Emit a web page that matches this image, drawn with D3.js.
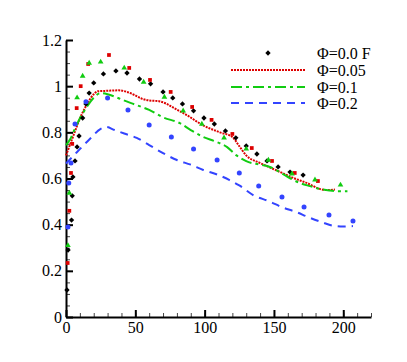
<!DOCTYPE html>
<html>
<head>
<meta charset="utf-8">
<script src="https://cdn.jsdelivr.net/npm/d3@7"></script>
</head>
<body style="margin:0">
<svg id="chart" width="407" height="362" font-family="Times New Roman"></svg>
<script>
// ---- data ----
const xTicks = [0, 50, 100, 150, 200];
const yTicks = [0, 0.2, 0.4, 0.6, 0.8, 1, 1.2];
const seriesNames = ["\u03A6=0.0 F", "\u03A6=0.05", "\u03A6=0.1", "\u03A6=0.2"];

// lines [x, y]
const line005 = [[0,0.70],[5,0.78],[10,0.86],[15,0.92],[20,0.965],[23,0.978],[30,0.98],[38,0.982],[44,0.975],
  [50,0.96],[55,0.945],[60,0.938],[67,0.935],[72,0.925],[78,0.905],[87,0.875],[99,0.83],[111,0.80],[120,0.78],
  [125,0.74],[130,0.70],[140,0.667],[150,0.64],[156,0.624],[165,0.60],[174,0.58],[183,0.555],[188,0.55],[194,0.552]];
const line01 = [[0,0.745],[3,0.77],[6,0.81],[10,0.86],[15,0.91],[20,0.95],[25,0.97],[30,0.965],[35,0.955],[41,0.94],
  [50,0.92],[60,0.897],[70,0.865],[82,0.84],[90,0.81],[99,0.78],[108,0.76],[116,0.737],[123,0.70],[130,0.675],
  [140,0.66],[147,0.65],[155,0.625],[162,0.60],[169,0.58],[176,0.567],[183,0.555],[190,0.548],[196,0.545],[203,0.545]];
const line02 = [[0,0.665],[8,0.715],[17,0.77],[25,0.815],[29,0.823],[35,0.81],[42,0.795],[51,0.776],[60,0.745],
  [70,0.71],[80,0.68],[90,0.66],[99,0.637],[110,0.615],[118,0.593],[125,0.57],[135,0.528],[147,0.50],[156,0.475],
  [166,0.455],[175,0.432],[185,0.41],[193,0.395],[200,0.392],[207,0.394]];

// scatter points [x, y]
const pts00 = [[0.7,0.117],[1.5,0.29],[4,0.42],[4.5,0.525],[5,0.607],[6.5,0.676],[8,0.737],[9.4,0.784],[12,0.862],
  [14.4,0.923],[16.7,0.97],[20,1.014],[27,1.053],[36,1.066],[44,1.057],[53,1.031],[61,1.01],[70,0.975],[77,0.949],
  [84,0.923],[92,0.893],[99.5,0.862],[107,0.836],[115,0.806],[122.5,0.776],[130,0.741],[137.7,0.706],[145,0.676],
  [153,0.65],[161.6,0.628],[171,0.615]];
const pts005 = [[1.2,0.234],[2.4,0.46],[3.6,0.624],[4.5,0.75],[7.7,0.905],[10.6,1.0],[16,1.096],[31,1.135],
  [45.6,1.079],[60.6,1.027],[75.5,0.975],[91,0.91],[105,0.854],[120,0.793],[134,0.732],[148.6,0.676],[165,0.624],[181.7,0.589]];
const pts01 = [[1.4,0.31],[2.4,0.537],[8,0.95],[12,1.044],[16.7,1.10],[25,1.105],[42,1.079],[56,1.018],[71,0.953],
  [84.5,0.893],[98,0.836],[114,0.776],[130,0.728],[146,0.68],[163,0.62],[179.6,0.594],[198,0.572]];
const pts02 = [[1.4,0.39],[2,0.58],[3.6,0.667],[6.5,0.836],[14.4,0.932],[30,0.949],[44.7,0.897],[60,0.832],[76,0.78],
  [92,0.728],[109,0.68],[125,0.624],[139,0.568],[155.8,0.52],[171.7,0.477],[189.7,0.442],[207,0.416]];

// ---- chart ----
const svg = d3.select("#chart");
const x = d3.scaleLinear().domain([0, 220]).range([66, 371]);
const y = d3.scaleLinear().domain([0, 1.2]).range([317, 40]);

const red = "#dd0000", green = "#11cc11", blue = "#3344ff";

// minor ticks
svg.append("g").attr("transform", "translate(0,317)")
  .call(d3.axisBottom(x).tickValues(d3.range(0, 221, 10)).tickSize(-4).tickFormat(""))
  .call(g => g.select(".domain").remove())
  .call(g => g.selectAll("line").attr("stroke", "#444"));
svg.append("g").attr("transform", "translate(66,0)")
  .call(d3.axisLeft(y).tickValues(d3.range(0, 1.201, 0.05)).tickSize(-4).tickFormat(""))
  .call(g => g.select(".domain").remove())
  .call(g => g.selectAll("line").attr("stroke", "#444"));

// major axes
const xAxis = svg.append("g").attr("transform", "translate(0,317)")
  .call(d3.axisBottom(x).tickValues(xTicks).tickSize(-7).tickSizeOuter(0).tickPadding(5).tickFormat(d => d));
const yAxis = svg.append("g").attr("transform", "translate(66,0)")
  .call(d3.axisLeft(y).tickValues(yTicks).tickSize(-7).tickSizeOuter(0).tickPadding(4).tickFormat(d => d));
[xAxis, yAxis].forEach(a => {
  a.attr("font-family", null).attr("font-size", null);
  a.select(".domain").attr("stroke", "#000").attr("stroke-width", 2);
  a.selectAll(".tick line").attr("stroke", "#000").attr("stroke-width", 2);
});

// lines
const lineGen = d3.line().x(d => x(d[0])).y(d => y(d[1])).curve(d3.curveMonotoneX);
svg.append("path").datum(line005).attr("d", lineGen).attr("fill", "none")
  .attr("stroke", red).attr("stroke-width", 2).attr("stroke-dasharray", "2,1");
svg.append("path").datum(line01).attr("d", lineGen).attr("fill", "none")
  .attr("stroke", green).attr("stroke-width", 2).attr("stroke-dasharray", "11,4,3,4");
svg.append("path").datum(line02).attr("d", lineGen).attr("fill", "none")
  .attr("stroke", blue).attr("stroke-width", 2).attr("stroke-dasharray", "8,6");

// markers
const diamond = d3.symbol().type(d3.symbolDiamond2).size(18);
const square = d3.symbol().type(d3.symbolSquare).size(14);
const tri = d3.symbol().type(d3.symbolTriangle).size(14);

svg.append("g").selectAll("path").data(pts00).join("path")
  .attr("transform", d => `translate(${x(d[0])},${y(d[1])})`).attr("d", diamond).attr("fill", "#000");
svg.append("g").selectAll("path").data(pts005).join("path")
  .attr("transform", d => `translate(${x(d[0])},${y(d[1])})`).attr("d", square).attr("fill", red);
svg.append("g").selectAll("path").data(pts01).join("path")
  .attr("transform", d => `translate(${x(d[0])},${y(d[1])})`).attr("d", tri).attr("fill", green);
svg.append("g").selectAll("circle").data(pts02).join("circle")
  .attr("cx", d => x(d[0])).attr("cy", d => y(d[1])).attr("r", 2.5).attr("fill", blue);

// legend
const legY = [53, 70, 87, 103];
const leg = svg.append("g");
leg.append("path").attr("transform", `translate(268,${legY[0]})`).attr("d", diamond).attr("fill", "#000");
const legLines = [[red, "2,1"], [green, "11,4,3,4"], [blue, "8,6"]];
legLines.forEach((s, i) => {
  leg.append("line").attr("x1", 231).attr("x2", 305).attr("y1", legY[i + 1]).attr("y2", legY[i + 1])
    .attr("stroke", s[0]).attr("stroke-width", 2).attr("stroke-dasharray", s[1]);
});
seriesNames.forEach((n, i) => {
  leg.append("text").attr("x", 317).attr("y", legY[i]).attr("dy", "0.35em").text(n);
});

// all texts: serif, black
svg.selectAll("text")
  .attr("fill", "#000")
  .attr("font-family", "Times New Roman")
  .attr("font-size", 16);
</script>
</body>
</html>
